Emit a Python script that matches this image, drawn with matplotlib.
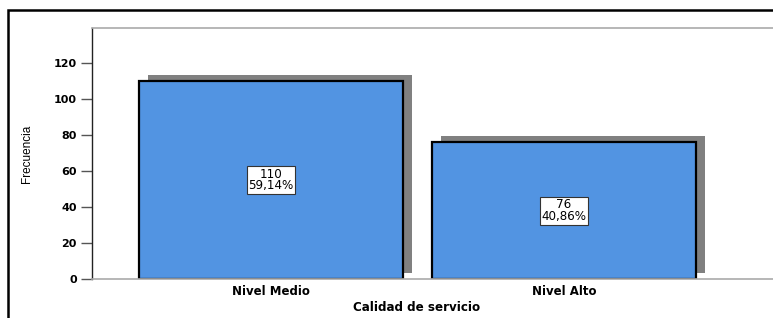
import matplotlib
matplotlib.use("Agg")
import matplotlib.pyplot as plt
from matplotlib.patches import Rectangle

categories = ["Nivel Medio", "Nivel Alto"]
counts = [110, 76]
percents = ["59,14%", "40,86%"]
yticks = [0, 20, 40, 60, 80, 100, 120]

plt.rcParams['font.family'] = ['DejaVu Sans']

fig = plt.figure(figsize=(7.73, 3.18), dpi=100)
ax = fig.add_axes([92/773, 1-279/318, 1-92/773, (279-28)/318])

# outer frame
fig.patches.append(Rectangle((8/773, -0.2), 1.2, 0.2 + 1 - 10/318, transform=fig.transFigure,
                             fill=False, edgecolor='black', linewidth=1.8, zorder=0))

x = list(range(len(categories)))
width = 0.9
dx, dy = 0.03, 3.4
# shadows
ax.bar([xi + dx for xi in x], counts, width=width, bottom=dy, color='#808080',
       edgecolor='none', zorder=1)
ax.bar(x, counts, width=width, color='#5294E2', edgecolor='black', linewidth=1.6, zorder=2)

for xi, c, p in zip(x, counts, percents):
    ax.text(xi, c / 2, f"{c}\n{p}", ha='center', va='center', fontsize=8.6, linespacing=0.85,
            bbox=dict(boxstyle='square,pad=0.15', facecolor='white', edgecolor='#333333', linewidth=0.8),
            zorder=3)

ax.set_xlim(-0.611, 1.713)
ax.set_ylim(0, 139.5)
ax.set_yticks(yticks)
ax.set_xticks(x)
ax.set_xticklabels(categories, fontsize=8.5, fontweight='bold')
ax.set_yticklabels([str(t) for t in yticks], fontsize=8, fontweight='bold')
ax.tick_params(axis='y', length=8, width=1, color='#555555', pad=3)
ax.tick_params(axis='x', length=0, pad=4)

for s in ['top', 'bottom']:
    ax.spines[s].set_color('#aaaaaa')
    ax.spines[s].set_linewidth(1.2)
ax.spines['left'].set_color('#222222')
ax.spines['left'].set_linewidth(1.0)
ax.spines['right'].set_visible(False)

ax.set_xlabel("Calidad de servicio", fontsize=8.6, fontweight='bold')
ax.xaxis.set_label_coords((417 - 92) / (773 - 92), -(301 - 279) / (279 - 28))
ax.set_ylabel("Frecuencia", fontsize=8.5, family=['Liberation Sans Narrow', 'Liberation Sans'])
ax.yaxis.set_label_coords(-(92 - 33) / (773 - 92), 0.5)

fig.savefig("out.png", dpi=100)
